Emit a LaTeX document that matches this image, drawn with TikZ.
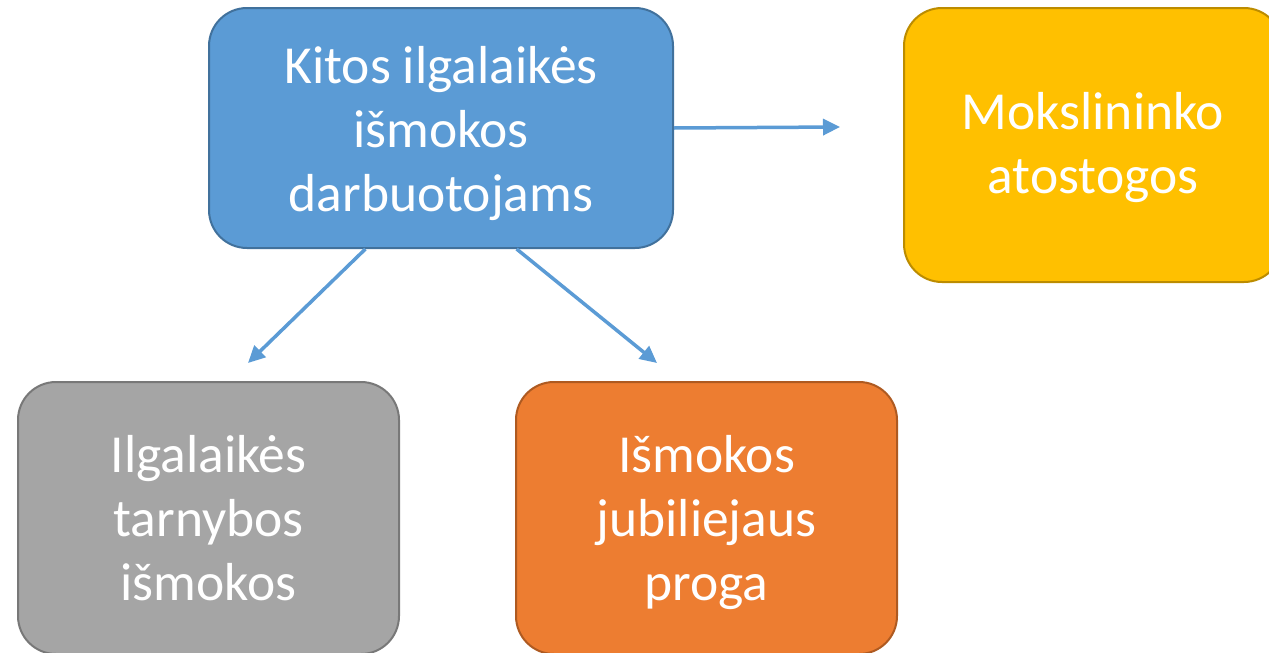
\documentclass[tikz,border=0pt]{standalone}
\usepackage{fontspec}
\setmainfont{Carlito}
\usetikzlibrary{arrows.meta}

\begin{document}
\begin{tikzpicture}[x=1pt, y=-1pt, >={Triangle[length=17pt,width=16pt]},
    box/.style={rounded corners=38pt, line width=2pt, align=center, text=white,
      font=\fontsize{53.5}{64}\selectfont, inner sep=0pt, text depth=0pt},
    link/.style={->, line width=3.5pt, draw=arrowblue}]
        \definecolor{arrowblue}{HTML}{5B9BD5}
        \clip (0,0) rectangle (1269,653);
        \node[box, fill=arrowblue, draw={rgb,255:red,65;green,113;blue,156},
          minimum width=464pt, minimum height=240pt, text height=166pt] (kitos) at (441,128)
          {Kitos ilgalaikės\\išmokos\\darbuotojams};
        \node[box, fill={rgb,255:red,255;green,192;blue,0}, draw={rgb,255:red,188;green,140;blue,0},
          minimum width=378pt, minimum height=274pt, text height=96pt] (mokslininko) at (1093,145)
          {Mokslininko\\atostogos};
        \node[box, fill={rgb,255:red,165;green,165;blue,165}, draw={rgb,255:red,120;green,120;blue,120},
          minimum width=381pt, minimum height=272pt, text height=164pt] (tarnybos) at (208.5,518)
          {Ilgalaikės\\tarnybos\\išmokos};
        \node[box, fill={rgb,255:red,237;green,125;blue,49}, draw={rgb,255:red,174;green,90;blue,33},
          minimum width=381pt, minimum height=272pt, text height=164pt] (jubiliejaus) at (706.5,518)
          {Išmokos\\jubiliejaus\\proga};
        \coordinate (rtip) at (840,127);
        \coordinate (ltip) at (248,363);
        \coordinate (jtip) at (657,363);
        \draw[link] (kitos.east) -- (rtip);
        \draw[link] (kitos.238) -- (ltip);
        \draw[link] (kitos.302) -- (jtip);
      \end{tikzpicture}
\end{document}
